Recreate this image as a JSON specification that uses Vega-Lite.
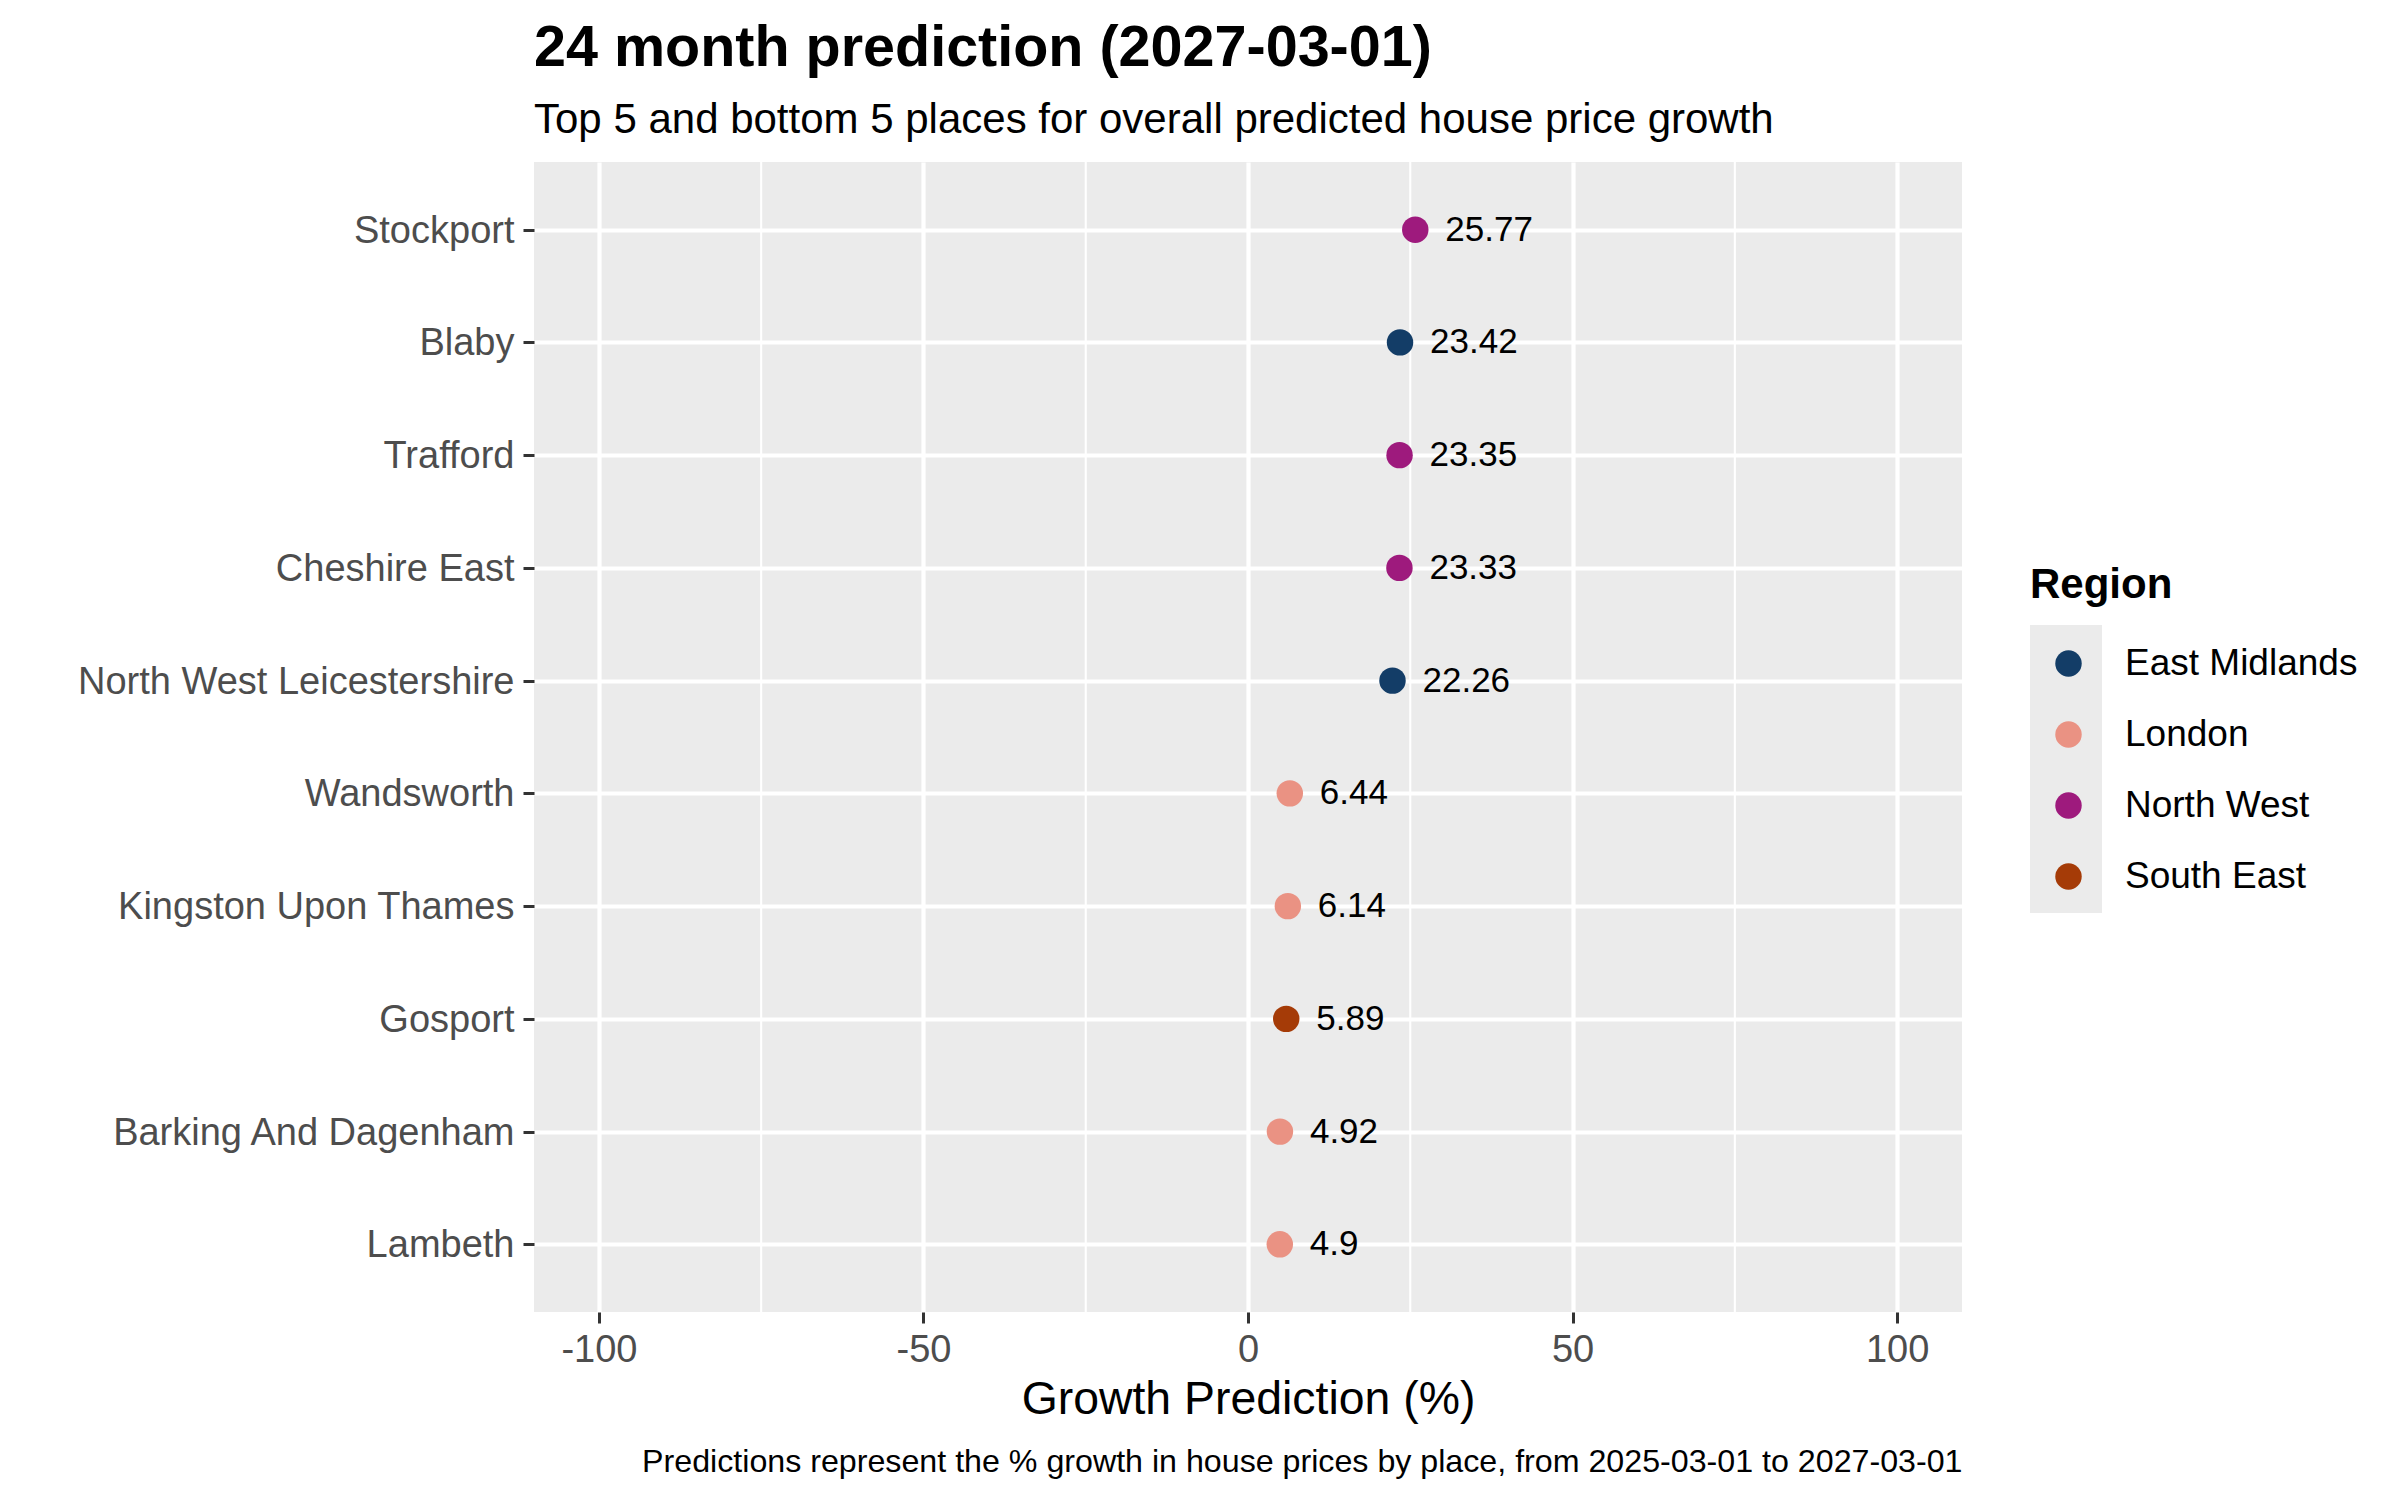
{
  "$schema": "https://vega.github.io/schema/vega-lite/v6.json",
  "description": "24 month house price growth prediction, top 5 and bottom 5 places.",
  "autosize": {"type": "none"},
  "padding": {"left": 534, "top": 162, "right": 438, "bottom": 188},
  "width": 1428,
  "height": 1150,
  "background": "white",
  "title": {
    "text": "24 month prediction (2027-03-01)",
    "subtitle": "Top 5 and bottom 5 places for overall predicted house price growth",
    "anchor": "start",
    "frame": "group",
    "font": "Liberation Sans",
    "fontSize": 57.5,
    "fontWeight": "bold",
    "color": "black",
    "subtitleFont": "Liberation Sans",
    "subtitleFontSize": 42,
    "subtitleColor": "black",
    "subtitlePadding": 21,
    "offset": 19
  },
  "config": {
    "font": "Liberation Sans",
    "view": {"fill": "#EBEBEB", "stroke": null},
    "axis": {
      "domain": false,
      "gridColor": "white",
      "gridWidth": 4.2,
      "tickColor": "#333333",
      "tickWidth": 3,
      "tickSize": 11,
      "labelColor": "#4D4D4D",
      "labelFontSize": 38,
      "labelLimit": 0,
      "labelFont": "Liberation Sans",
      "titleFont": "Liberation Sans",
      "titleFontWeight": "normal",
      "titleColor": "black",
      "titleFontSize": 46.4
    }
  },
  "resolve": {"axis": {"x": "independent"}},
  "layer": [
    {
      "data": {"values": [{"minor": -75}, {"minor": -25}, {"minor": 25}, {"minor": 75}]},
      "mark": {"type": "rule", "color": "white", "strokeWidth": 2.1},
      "encoding": {
        "x": {
          "field": "minor",
          "type": "quantitative",
          "scale": {"domain": [-110, 110], "nice": false, "zero": false},
          "axis": {
            "orient": "bottom",
            "title": "Predictions represent the % growth in house prices by place, from 2025-03-01 to 2027-03-01",
            "labels": false,
            "ticks": false,
            "grid": false,
            "domain": false,
            "titleFontSize": 32.2,
            "titleColor": "black",
            "titleAlign": "right",
            "titleAnchor": "end",
            "titleBaseline": "alphabetic",
            "titleLimit": 0,
            "titleX": 1428,
            "titleY": 159
          }
        }
      }
    },
    {
      "data": {
        "values": [
          {"place": "Stockport", "growth": 25.77, "label": "25.77", "region": "North West", "key": "NW"},
          {"place": "Blaby", "growth": 23.42, "label": "23.42", "region": "East Midlands", "key": "EM"},
          {"place": "Trafford", "growth": 23.35, "label": "23.35", "region": "North West", "key": "NW"},
          {"place": "Cheshire East", "growth": 23.33, "label": "23.33", "region": "North West", "key": "NW"},
          {"place": "North West Leicestershire", "growth": 22.26, "label": "22.26", "region": "East Midlands", "key": "EM"},
          {"place": "Wandsworth", "growth": 6.44, "label": "6.44", "region": "London", "key": "LDN"},
          {"place": "Kingston Upon Thames", "growth": 6.14, "label": "6.14", "region": "London", "key": "LDN"},
          {"place": "Gosport", "growth": 5.89, "label": "5.89", "region": "South East", "key": "SE"},
          {"place": "Barking And Dagenham", "growth": 4.92, "label": "4.92", "region": "London", "key": "LDN"},
          {"place": "Lambeth", "growth": 4.9, "label": "4.9", "region": "London", "key": "LDN"}
        ]
      },
      "encoding": {
        "x": {
          "field": "growth",
          "type": "quantitative",
          "title": "Growth Prediction (%)",
          "scale": {"domain": [-110, 110], "nice": false, "zero": false},
          "axis": {
            "orient": "bottom",
            "grid": true,
            "values": [-100, -50, 0, 50, 100],
            "labelExpr": "'' + datum.value",
            "labelPadding": 8,
            "titlePadding": 7
          }
        },
        "y": {
          "field": "place",
          "type": "nominal",
          "sort": {"field": "growth", "order": "descending"},
          "scale": {"type": "point", "padding": 0.6},
          "axis": {"title": null, "grid": true, "labelPadding": 9, "labelOffset": 1.5}
        }
      },
      "layer": [
        {
          "mark": {"type": "point", "filled": true, "size": 400, "color": "#EBEBEB", "opacity": 1, "strokeWidth": 0},
          "encoding": {
            "shape": {
              "field": "key",
              "type": "nominal",
              "scale": {
                "domain": ["EM", "LDN", "NW", "SE"],
                "range": ["square", "square", "square", "square"]
              },
              "legend": {
                "orient": "none",
                "legendX": 1496,
                "legendY": 463,
                "padding": 0,
                "title": null,
                "labelExpr": "''",
                "labelFontSize": 1,
                "labelOpacity": 0,
                "labelOffset": 0,
                "symbolType": "square",
                "symbolSize": 5184,
                "symbolFillColor": "#EBEBEB",
                "symbolStrokeColor": "#EBEBEB",
                "symbolStrokeWidth": 0,
                "symbolOpacity": 1,
                "symbolOffset": 0,
                "rowPadding": 0
              }
            }
          }
        },
        {
          "mark": {"type": "point", "filled": true, "size": 700, "opacity": 1, "strokeWidth": 0},
          "encoding": {
            "color": {
              "field": "region",
              "type": "nominal",
              "scale": {
                "domain": ["East Midlands", "London", "North West", "South East"],
                "range": ["#133D67", "#EA9283", "#9E1A7D", "#A53B07"]
              },
              "legend": {
                "orient": "none",
                "legendX": 1496,
                "legendY": 403,
                "padding": 0,
                "title": "Region",
                "titleFontSize": 42,
                "titleFontWeight": "bold",
                "titleColor": "black",
                "titlePadding": 38,
                "labelFontSize": 37,
                "labelColor": "black",
                "labelLimit": 0,
                "labelOffset": 38,
                "symbolType": "circle",
                "symbolSize": 700,
                "symbolStrokeWidth": 0,
                "symbolOpacity": 1,
                "symbolOffset": 20,
                "rowPadding": 33
              }
            }
          }
        },
        {
          "mark": {"type": "text", "align": "left", "baseline": "middle", "dx": 30, "fontSize": 35, "color": "black"},
          "encoding": {"text": {"field": "label", "type": "nominal"}}
        }
      ]
    }
  ]
}
